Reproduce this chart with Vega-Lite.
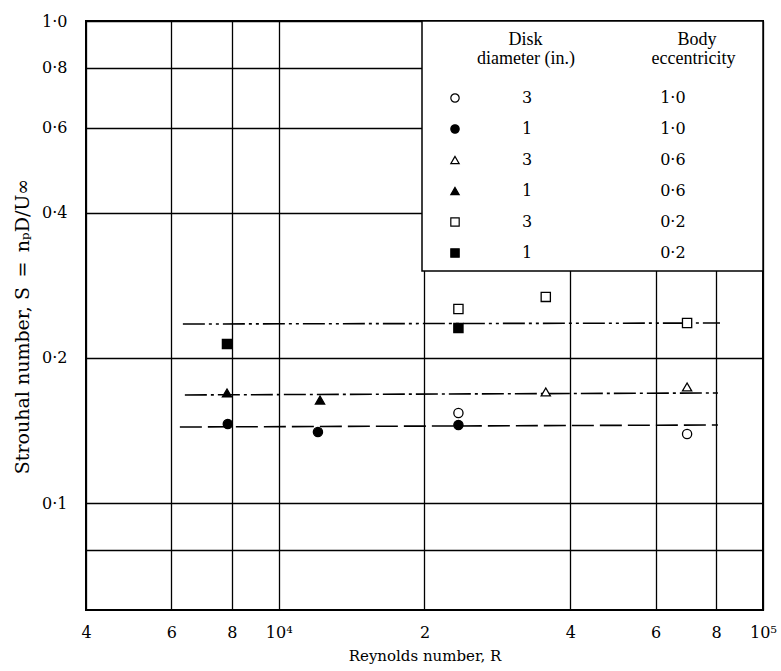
{
  "$schema": "https://vega.github.io/schema/vega-lite/v6.json",
  "autosize": {"type": "none"},
  "padding": {"left": 86, "top": 21, "right": 18, "bottom": 61},
  "width": 677,
  "height": 589,
  "background": "white",
  "config": {
    "font": "DejaVu Serif",
    "view": {"stroke": "black", "strokeWidth": 2},
    "axis": {
      "grid": true,
      "gridColor": "black",
      "gridOpacity": 1,
      "gridWidth": 1.3,
      "ticks": false,
      "domain": false,
      "labelFont": "DejaVu Serif",
      "labelFontSize": 16,
      "labelColor": "black",
      "labelOverlap": false,
      "labelFlush": false,
      "labelBound": false,
      "titleFont": "DejaVu Serif",
      "titleFontSize": 15,
      "titleFontWeight": "normal",
      "titleColor": "black"
    },
    "legend": {
      "orient": "top-right",
      "offset": 0,
      "titleFont": "Liberation Serif",
      "titleFontSize": 18,
      "titleFontWeight": "normal",
      "titleColor": "black",
      "titleLineHeight": 19,
      "titleAnchor": "start",
      "titleAlign": "left",
      "titlePadding": 22,
      "titleLimit": 400,
      "labelFont": "DejaVu Serif",
      "labelFontSize": 16,
      "labelColor": "black",
      "labelLimit": 400,
      "labelOffset": 59,
      "symbolOffset": 15,
      "symbolSize": 70,
      "symbolStrokeWidth": 1.2,
      "rowPadding": 15,
      "padding": 10,
      "fillColor": "white",
      "strokeColor": "black",
      "strokeWidth": 1.5
    }
  },
  "layer": [
    {
      "data": {
        "values": [
          {"R": 6340, "S": 0.2352, "fit": "e0.2"},
          {"R": 81500, "S": 0.2363, "fit": "e0.2"},
          {"R": 6400, "S": 0.1676, "fit": "e0.6"},
          {"R": 80700, "S": 0.1692, "fit": "e0.6"},
          {"R": 6250, "S": 0.1438, "fit": "e1.0"},
          {"R": 80700, "S": 0.1452, "fit": "e1.0"}
        ]
      },
      "mark": {"type": "line", "color": "black", "strokeWidth": 1.6},
      "encoding": {
        "x": {
          "field": "R", "type": "quantitative",
          "scale": {"type": "log", "domain": [4000, 100000], "nice": false},
          "axis": {
            "values": [4000, 6000, 8000, 10000, 20000, 40000, 60000, 80000, 100000],
            "labelExpr": "datum.value == 10000 ? '10⁴' : datum.value == 100000 ? '10⁵' : datum.value < 10000 ? format(datum.value / 1000, 'd') : format(datum.value / 10000, 'd')",
            "labelPadding": 14,
            "title": "Reynolds number, R",
            "titlePadding": 8
          }
        },
        "y": {
          "field": "S", "type": "quantitative",
          "scale": {"type": "log", "domain": [0.06, 1], "nice": false},
          "axis": {
            "values": [0.08, 0.1, 0.2, 0.4, 0.6, 0.8, 1.0],
            "labelExpr": "datum.value < 0.09 ? '' : replace(format(datum.value, '.1f'), '.', '·')",
            "labelPadding": 19,
            "title": "Strouhal number, S\u2002=\u2002nₚD/U∞",
            "titleFontSize": 19,
            "titlePadding": 9,
            "titleY": 305
          }
        },
        "detail": {"field": "fit"},
        "strokeDash": {
          "field": "fit", "type": "nominal",
          "scale": {"domain": ["e0.2", "e0.6", "e1.0"], "range": [[22, 4, 3, 4, 3, 4], [22, 4, 3, 4], [22, 6]]},
          "legend": null
        }
      }
    },
    {
      "data": {
        "values": [
          {"R": 23500, "S": 0.1538, "series": "3|1·0"},
          {"R": 69700, "S": 0.1391, "series": "3|1·0"},
          {"R": 7850, "S": 0.1459, "series": "1|1·0"},
          {"R": 12050, "S": 0.1404, "series": "1|1·0"},
          {"R": 23500, "S": 0.1452, "series": "1|1·0"},
          {"R": 35600, "S": 0.1700, "series": "3|0·6"},
          {"R": 69700, "S": 0.1741, "series": "3|0·6"},
          {"R": 7820, "S": 0.1692, "series": "1|0·6"},
          {"R": 12170, "S": 0.1636, "series": "1|0·6"},
          {"R": 23500, "S": 0.2527, "series": "3|0·2"},
          {"R": 35600, "S": 0.2677, "series": "3|0·2"},
          {"R": 69700, "S": 0.2363, "series": "3|0·2"},
          {"R": 7820, "S": 0.2138, "series": "1|0·2"},
          {"R": 23500, "S": 0.2308, "series": "1|0·2"}
        ]
      },
      "mark": {"type": "point", "filled": true, "strokeWidth": 1.3, "size": 85, "opacity": 1},
      "encoding": {
        "x": {"field": "R", "type": "quantitative"},
        "y": {"field": "S", "type": "quantitative"},
        "shape": {
          "field": "series", "type": "nominal",
          "scale": {
            "domain": ["3|1·0", "1|1·0", "3|0·6", "1|0·6", "3|0·2", "1|0·2"],
            "range": ["circle", "circle", "triangle-up", "triangle-up", "square", "square"]
          },
          "legend": {
            "title": ["\u200b\u2003\u2003\u2003\u2003\u00a0Disk\u2003\u2003\u2003\u2003\u2003\u2003\u2003\u00a0\u00a0Body", "\u200b\u2003\u2003\u00a0\u00a0diameter (in.)\u2003\u2003\u2003\u2003\u00a0eccentricity"],
            "labelExpr": "replace(datum.value, '|', '\u2003\u2003\u2003\u2003\u2003\u2003\u2003\u2003') + '\u2003\u2003\u2003\u2003\u2009\u200b'"
          }
        },
        "fill": {
          "field": "series", "type": "nominal",
          "scale": {
            "domain": ["3|1·0", "1|1·0", "3|0·6", "1|0·6", "3|0·2", "1|0·2"],
            "range": ["white", "black", "white", "black", "white", "black"]
          },
          "legend": {
            "title": ["\u200b\u2003\u2003\u2003\u2003\u00a0Disk\u2003\u2003\u2003\u2003\u2003\u2003\u2003\u00a0\u00a0Body", "\u200b\u2003\u2003\u00a0\u00a0diameter (in.)\u2003\u2003\u2003\u2003\u00a0eccentricity"],
            "labelExpr": "replace(datum.value, '|', '\u2003\u2003\u2003\u2003\u2003\u2003\u2003\u2003') + '\u2003\u2003\u2003\u2003\u2009\u200b'"
          }
        },
        "stroke": {
          "field": "series", "type": "nominal",
          "scale": {
            "domain": ["3|1·0", "1|1·0", "3|0·6", "1|0·6", "3|0·2", "1|0·2"],
            "range": ["black", "black", "black", "black", "black", "black"]
          },
          "legend": {
            "title": ["\u200b\u2003\u2003\u2003\u2003\u00a0Disk\u2003\u2003\u2003\u2003\u2003\u2003\u2003\u00a0\u00a0Body", "\u200b\u2003\u2003\u00a0\u00a0diameter (in.)\u2003\u2003\u2003\u2003\u00a0eccentricity"],
            "labelExpr": "replace(datum.value, '|', '\u2003\u2003\u2003\u2003\u2003\u2003\u2003\u2003') + '\u2003\u2003\u2003\u2003\u2009\u200b'"
          }
        }
      }
    }
  ]
}
